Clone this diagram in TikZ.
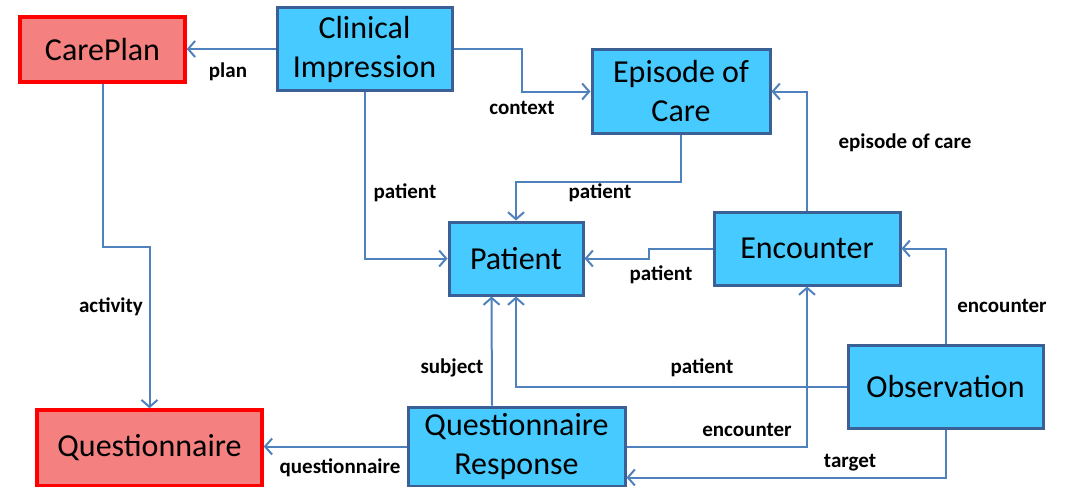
\documentclass[tikz,border=0pt]{standalone}
\usepackage{fontspec}
\setmainfont{Carlito}
\usetikzlibrary{arrows.meta}
\definecolor{boxblue}{RGB}{70,202,255}
\definecolor{boxborder}{RGB}{58,96,150}
\definecolor{redfill}{RGB}{244,128,128}
\definecolor{redborder}{RGB}{255,0,0}
\definecolor{linkblue}{RGB}{79,129,189}
\tikzset{
  x=1pt, y=-1pt,
  bluebox/.style={draw=boxborder, line width=3pt, fill=boxblue, align=center, inner sep=0pt,
    font=\fontsize{32}{39}\selectfont},
  redbox/.style={draw=redborder, line width=3.5pt, fill=redfill, align=center, inner sep=0pt,
    font=\fontsize{32}{39}\selectfont},
  conn/.style={draw=linkblue, line width=2pt, -{Straight Barb[length=7pt,width=16pt]}},
  lbl/.style={inner sep=0pt, font=\fontsize{21}{24}\selectfont\bfseries}
}
\begin{document}
\begin{tikzpicture}
\useasboundingbox (0,0) rectangle (1076,487);
% nodes
\node[redbox, minimum width=165pt, minimum height=65pt] (cp) at (102.5,49.5) {CarePlan};
\node[bluebox, minimum width=175pt, minimum height=82pt] (ci) at (364.5,49) {Clinical\\Impression};
\node[bluebox, minimum width=178pt, minimum height=83pt] (ep) at (681,91.5) {Episode of\\Care};
\node[bluebox, minimum width=134pt, minimum height=73pt] (pt) at (516,258.5) {Patient};
\node[bluebox, minimum width=186pt, minimum height=73pt] (en) at (807,248.5) {Encounter};
\node[bluebox, minimum width=195pt, minimum height=83pt] (ob) at (945.5,386.5) {Observation};
\node[bluebox, minimum width=217pt, minimum height=79pt] (qr) at (516.5,446.5) {Questionnaire\\Response};
\node[redbox, minimum width=225pt, minimum height=76pt] (q) at (149.5,448) {Questionnaire};
% connectors
\draw[conn] (ci.west) -- (ci.west -| cp.east);
\draw[conn] (ci.east) -- ++(68,0) |- (ep.west);
\draw[conn] (cp.south) -- ++(0,163) -| (q.north);
\draw[conn] (ci.south) |- (pt.west);
\draw[conn] (ep.south) -- ++(0,47) -| (pt.north);
\draw[conn] (en.west) -- ++(-64,0) |- (pt.east);
\draw[conn] (en.north) |- (ep.east);
\draw[conn] (ob.north) |- (en.east);
\draw[conn] (ob.west) -| (pt.south);
\draw[conn] ([xshift=-24.5pt]qr.north) -- ([xshift=-24.5pt]pt.south);
\draw[conn] (qr.east) -| (en.south);
\draw[conn] (ob.south) |- ([yshift=-31pt]qr.east);
\draw[conn] (qr.west) -- (qr.west -| q.east);
% labels
\node[lbl] (l1) at (228,72) {plan};
\node[lbl] (l2) at (522,108) {context};
\node[lbl] (l3) at (111,307) {activity};
\node[lbl] (l4) at (405,193) {patient};
\node[lbl] (l5) at (600,193) {patient};
\node[lbl] (l6) at (661,275) {patient};
\node[lbl] (l7) at (905,143) {episode of care};
\node[lbl] (l8) at (1002,306) {encounter};
\node[lbl] (l9) at (702,368) {patient};
\node[lbl] (l10) at (452,368) {subject};
\node[lbl] (l11) at (747,430) {encounter};
\node[lbl] (l12) at (850,463) {target};
\node[lbl] (l13) at (340,468) {questionnaire};
\end{tikzpicture}
\end{document}
